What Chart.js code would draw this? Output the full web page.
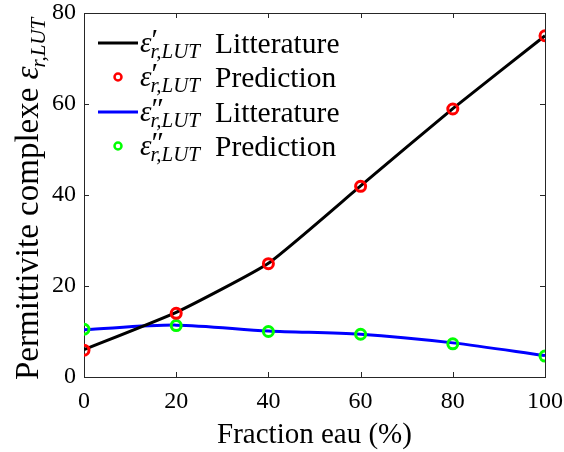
<!DOCTYPE html>
<html>
<head>
<meta charset="utf-8">
<script src="https://cdn.jsdelivr.net/npm/chart.js@4.4.0/dist/chart.umd.min.js"></script>
<style>
  html, body { margin: 0; padding: 0; background: #fff; }
  #wrap { width: 564px; height: 452px; }
</style>
</head>
<body>
<div id="wrap"><canvas id="graphe"></canvas></div>
<script>
// Fraction d'eau (%) et permittivites (partie reelle / imaginaire)
const fractionEau = [0, 20, 40, 60, 80, 100];
const reelLitterature = [6.0, 14.2, 25.0, 42.0, 59.0, 75.0];
const reelPrediction = [5.9, 14.0, 24.9, 41.9, 58.9, 75.0];
const imagLitterature = [10.4, 11.4, 10.1, 9.4, 7.5, 4.7];
const imagPrediction = [10.5, 11.3, 10.0, 9.4, 7.3, 4.6];
const ticksX = [0, 20, 40, 60, 80, 100];
const ticksY = [0, 20, 40, 60, 80];

const SERIF = "'Liberation Serif', 'Times New Roman', serif";

function points(ys) {
  return fractionEau.map((x, i) => ({ x, y: ys[i] }));
}

// Legende dessinee a la main : primes et indices en notation math
const entreesLegende = [
  { type: 'ligne', couleur: '#000000', prime: '\u2032', texte: 'Litterature' },
  { type: 'rond', couleur: '#ff0000', prime: '\u2032', texte: 'Prediction' },
  { type: 'ligne', couleur: '#0000ff', prime: '\u2033', texte: 'Litterature' },
  { type: 'rond', couleur: '#00ff00', prime: '\u2033', texte: 'Prediction' }
];

// epsilon + prime + indice r,LUT, a partir de (x, y) sur la ligne de base
function dessinerEpsilon(ctx, x, y, prime, taille, tailleIndice) {
  ctx.font = 'italic ' + taille + 'px ' + SERIF;
  ctx.fillText('\u03b5', x, y);
  const wEps = ctx.measureText('\u03b5').width;
  if (prime) {
    ctx.font = Math.round(taille * 1.05) + 'px ' + SERIF;
    ctx.fillText(prime, x + wEps, y - taille * 0.12);
  }
  ctx.font = 'italic ' + tailleIndice + 'px ' + SERIF;
  ctx.fillText('r,LUT', x + wEps - 1, y + taille * 0.2);
}

const cadrePlugin = {
  id: 'cadre',
  beforeDatasetsDraw(chart) {
    const { ctx, chartArea: a, scales } = chart;
    ctx.save();
    ctx.strokeStyle = '#262626';
    ctx.lineWidth = 1;
    ctx.strokeRect(a.left + 0.5, a.top + 0.5, a.right - a.left, a.bottom - a.top);
    ctx.beginPath();
    ticksX.forEach(v => {
      const px = Math.round(scales.x.getPixelForValue(v)) + 0.5;
      ctx.moveTo(px, a.bottom); ctx.lineTo(px, a.bottom - 5);
      ctx.moveTo(px, a.top); ctx.lineTo(px, a.top + 5);
    });
    ticksY.forEach(v => {
      const py = Math.round(scales.y.getPixelForValue(v)) + 0.5;
      ctx.moveTo(a.left, py); ctx.lineTo(a.left + 5, py);
      ctx.moveTo(a.right, py); ctx.lineTo(a.right - 5, py);
    });
    ctx.stroke();
    ctx.restore();
  },
  afterDraw(chart) {
    const { ctx, chartArea: a } = chart;
    ctx.save();
    ctx.fillStyle = '#000';
    ctx.textBaseline = 'alphabetic';

    // titre de l'axe x
    ctx.font = '29px ' + SERIF;
    ctx.textAlign = 'center';
    ctx.fillText('Fraction eau (%)', (a.left + a.right) / 2, 443);

    // titre de l'axe y (vertical)
    ctx.textAlign = 'left';
    ctx.translate(38, 380);
    ctx.rotate(-Math.PI / 2);
    ctx.font = '33px ' + SERIF;
    const debut = 'Permittivite complexe ';
    ctx.fillText(debut, 0, 0);
    dessinerEpsilon(ctx, ctx.measureText(debut).width, 0, '', 33, 21);
    ctx.setTransform(1, 0, 0, 1, 0, 0);

    // legende
    const bases = [53, 87, 122, 156];
    entreesLegende.forEach((e, i) => {
      const b = bases[i];
      const cy = b - 10;
      ctx.strokeStyle = e.couleur;
      ctx.beginPath();
      if (e.type === 'ligne') {
        ctx.lineWidth = 3;
        ctx.moveTo(98, cy); ctx.lineTo(138, cy);
      } else {
        ctx.lineWidth = 2.5;
        ctx.arc(118, cy, 3.5, 0, Math.PI * 2);
      }
      ctx.stroke();
      ctx.fillStyle = '#000';
      dessinerEpsilon(ctx, 140, b - 1, e.prime, 29, 21);
      ctx.font = '29.5px ' + SERIF;
      ctx.fillText(e.texte, 215, b);
    });
    ctx.restore();
  }
};

new Chart(document.getElementById('graphe'), {
  type: 'line',
  data: {
    datasets: [
      {
        label: "\u03b5' Prediction",
        data: points(reelPrediction),
        showLine: false,
        borderColor: '#ff0000',
        backgroundColor: 'rgba(0,0,0,0)',
        pointRadius: 5,
        pointBorderWidth: 3,
        order: 0
      },
      {
        label: '\u03b5" Prediction',
        data: points(imagPrediction),
        showLine: false,
        borderColor: '#00ff00',
        backgroundColor: 'rgba(0,0,0,0)',
        pointRadius: 5,
        pointBorderWidth: 3,
        order: 1
      },
      {
        label: "\u03b5' Litterature",
        data: points(reelLitterature),
        borderColor: '#000000',
        borderWidth: 3,
        pointRadius: 0,
        tension: 0.15,
        order: 2
      },
      {
        label: '\u03b5" Litterature',
        data: points(imagLitterature),
        borderColor: '#0000ff',
        borderWidth: 3,
        pointRadius: 0,
        tension: 0.3,
        order: 3
      }
    ]
  },
  options: {
    responsive: true,
    maintainAspectRatio: false,
    animation: false,
    layout: { padding: { top: 13, right: 19, left: 0, bottom: 0 } },
    plugins: {
      legend: { display: false },
      tooltip: { enabled: false }
    },
    scales: {
      x: {
        type: 'linear',
        min: 0,
        max: 100,
        afterFit: s => { s.height = 75; s.paddingLeft = 0; s.paddingRight = 0; },
        afterBuildTicks: s => { s.ticks = ticksX.map(v => ({ value: v })); },
        grid: { display: false, drawTicks: false },
        border: { display: false },
        ticks: { color: '#000', padding: 10, font: { family: SERIF, size: 24 } }
      },
      y: {
        min: 0,
        max: 80,
        afterFit: s => { s.width = 84; s.paddingTop = 0; s.paddingBottom = 0; },
        afterBuildTicks: s => { s.ticks = ticksY.map(v => ({ value: v })); },
        grid: { display: false, drawTicks: false },
        border: { display: false },
        ticks: { color: '#000', padding: 8, font: { family: SERIF, size: 24 } }
      }
    }
  },
  plugins: [cadrePlugin]
});
</script>
</body>
</html>
